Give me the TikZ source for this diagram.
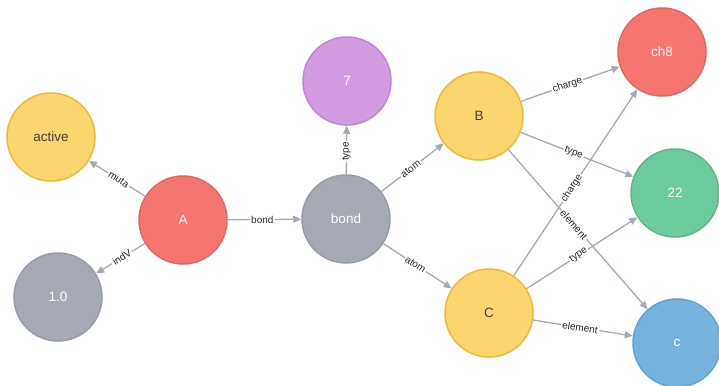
\documentclass[tikz,border=0pt]{standalone}
\usepackage{fontspec}
\setmainfont{Liberation Sans}
\usetikzlibrary{arrows.meta}
\definecolor{ylwF}{HTML}{FBD56E}
\definecolor{ylwD}{HTML}{EDBA39}
\definecolor{redF}{HTML}{F7756F}
\definecolor{redD}{HTML}{E06760}
\definecolor{gryF}{HTML}{A4A9B4}
\definecolor{gryD}{HTML}{979DA8}
\definecolor{purF}{HTML}{D49BE2}
\definecolor{purD}{HTML}{BF85D6}
\definecolor{grnF}{HTML}{6CCB9C}
\definecolor{grnD}{HTML}{5FB58A}
\definecolor{bluF}{HTML}{76B2DD}
\definecolor{bluD}{HTML}{5CA4D8}
\definecolor{edgeC}{HTML}{A5ABB6}
\tikzset{
  gnode/.style={circle,minimum size=88pt,inner sep=0pt,line width=1.5pt,font=\fontsize{13.5}{15}\selectfont},
  yel/.style={gnode,fill=ylwF,draw=ylwD,text=black!75},
  rednode/.style={gnode,fill=redF,draw=redD,text=white},
  grynode/.style={gnode,fill=gryF,draw=gryD,text=white},
  purnode/.style={gnode,fill=purF,draw=purD,text=white},
  grnnode/.style={gnode,fill=grnF,draw=grnD,text=white},
  blunode/.style={gnode,fill=bluF,draw=bluD,text=white},
  rel/.style={draw=edgeC,line width=1.3pt,-{Triangle[length=8pt,width=7pt]}},
  lbl/.style={pos=0.47,sloped,fill=white,inner sep=1.3pt,text=black!85,font=\fontsize{10}{11}\selectfont}
}
\begin{document}
\begin{tikzpicture}[x=1pt,y=-1pt]
\useasboundingbox (0,0) rectangle (719,385);
\node[yel] (active) at (51,137) {active};
\node[grynode] (one) at (58,297) {1.0};
\node[rednode] (A) at (183,220) {A};
\node[grynode] (bond) at (346,219) {bond};
\node[purnode] (seven) at (347,81) {7};
\node[yel] (B) at (479,116) {B};
\node[yel] (C) at (489,313) {C};
\node[rednode] (ch8) at (662,52) {ch8};
\node[grnnode] (tt) at (675,193) {22};
\node[blunode] (c) at (677,343) {c};
\draw[rel] (A) -- node[lbl]{muta} (active);
\draw[rel] (A) -- node[lbl]{indV} (one);
\draw[rel] (A) -- node[lbl]{bond} (bond);
\draw[rel] (bond) -- node[lbl]{type} (seven);
\draw[rel] (bond) -- node[lbl]{atom} (B);
\draw[rel] (bond) -- node[lbl]{atom} (C);
\draw[rel] (B) -- node[lbl]{charge} (ch8);
\draw[rel] (B) -- node[lbl]{type} (tt);
\draw[rel] (B) -- node[lbl]{element} (c);
\draw[rel] (C) -- node[lbl]{charge} (ch8);
\draw[rel] (C) -- node[lbl]{type} (tt);
\draw[rel] (C) -- node[lbl]{element} (c);
\end{tikzpicture}
\end{document}
